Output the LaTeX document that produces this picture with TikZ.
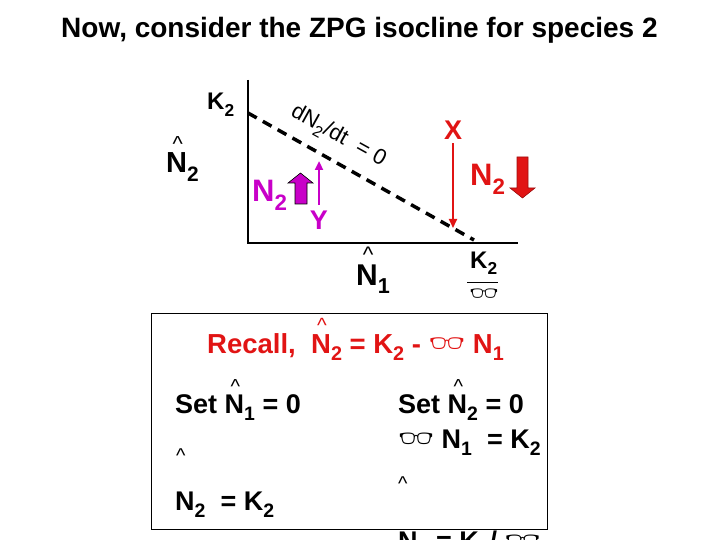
\documentclass[tikz,border=0pt]{standalone}
\usepackage{fontspec}
\setmainfont{Liberation Sans}
\newfontfamily\emo{Noto Emoji}
\usetikzlibrary{arrows.meta}
\definecolor{isored}{RGB}{225,20,20}
\definecolor{isopurple}{RGB}{200,0,200}
\newcommand{\lo}[1]{\raisebox{-0.28em}{\scalebox{0.72}{#1}}}
\newcommand{\hatN}{\rlap{\raisebox{0.74em}{\kern0.22em\scalebox{0.75}{\mdseries\textasciicircum}}}N}
\newcommand{\bta}{{\emo\mdseries\scalebox{1.05}{\char"1F453}}}

\begin{document}
\begin{tikzpicture}[x=1pt, y=-1pt,
txt/.style={anchor=base west, inner sep=0pt, font=\bfseries\fontsize{#1}{#1}\selectfont},
txt/.default=27,
axis/.style={line width=1.3pt},
iso/.style={line width=3.5pt, dash pattern=on 10pt off 7pt},
thin/.style={-{Triangle[length=9pt, width=8pt]}},
]
\useasboundingbox (0,0) rectangle (720,540);
% title
\node[txt=28] (title) at (61,38) {Now, consider the ZPG isocline for species 2};
% axes and isocline
\coordinate (O) at (248,243);
\coordinate (top) at (248,80);
\coordinate (right) at (518,243);
\draw[axis] (top) -- (O) -- (right);
\coordinate (k2y) at (248,113);
\coordinate (k2x) at (474,240);
\draw[iso] (k2y) -- (k2x);
\node[txt=24] (K2a) at (207,110) {K\lo{2}};
\node[txt=29] (N2hat) at (166,173) {\hatN\lo{2}};
\node[font=\fontsize{22}{22}\selectfont, rotate=-29, inner sep=0pt] (dndt) at (338,137) {dN\lo{2}/dt\ \ = 0};
% species 2 increases below the line
\node[txt=31, text=isopurple] (N2up) at (252,202) {N\lo{2}};
\draw[fill=isopurple, draw=black, line width=0.6pt] (295,204) -- (295,183) -- (288,183) -- (300.5,173) -- (313,183) -- (307,183) -- (307,204) -- cycle;
\coordinate (ytail) at (319,205);
\coordinate (yhead) at (319,161);
\draw[thin, isopurple, line width=2.6pt] (ytail) -- (yhead);
\node[font=\bfseries\fontsize{27}{27}\selectfont, text=isopurple, inner sep=0pt] (Y) at (319,220) {Y};
% species 2 decreases above the line
\node[font=\bfseries\fontsize{27}{27}\selectfont, text=isored, inner sep=0pt] (X) at (453,130) {X};
\draw[thin, isored, line width=2pt] (X.south) ++(0,4) -- (453,228);
\node[txt=31, text=isored] (N2dn) at (470,186) {N\lo{2}};
\draw[fill=isored, draw=isored!70!black, line width=0.6pt] (517,157) -- (528,157) -- (528,188) -- (535,188) -- (522.5,198) -- (510,188) -- (517,188) -- cycle;
% axis labels
\node[txt=30] (N1hat) at (356,285) {\hatN\lo{1}};
\node[txt=24] (K2b) at (470,268) {K\lo{2}};
\draw[line width=0.8pt] (467,282) -- (498,282);
\node[inner sep=0pt, font=\fontsize{22}{22}\selectfont] (betab) at (484,295) {\bta};
% recall box
\draw[line width=1pt] (151,313) rectangle (547,529);
\node[txt=27.5, text=isored] (recall) at (207,353) {Recall,\ \ \hatN\lo{2} = K\lo{2} - \bta\ N\lo{1}};
\node[txt] (set1) at (175,413) {Set \hatN\lo{1} = 0};
\node[txt=20] (caret1) at (176,462) {\mdseries\textasciicircum};
\node[txt] (res1) at (175,510) {N\lo{2}\ \ = K\lo{2}};
\node[txt] (set2) at (398,413) {Set \hatN\lo{2} = 0};
\node[txt] (beta2) at (398,448) {\bta\ N\lo{1}\ \ = K\lo{2}};
\node[txt=20] (caret2) at (398,490) {\mdseries\textasciicircum};
\node[txt] (res2) at (398,550) {N\lo{1} = K\lo{2}/ \bta};
\end{tikzpicture}
\end{document}
